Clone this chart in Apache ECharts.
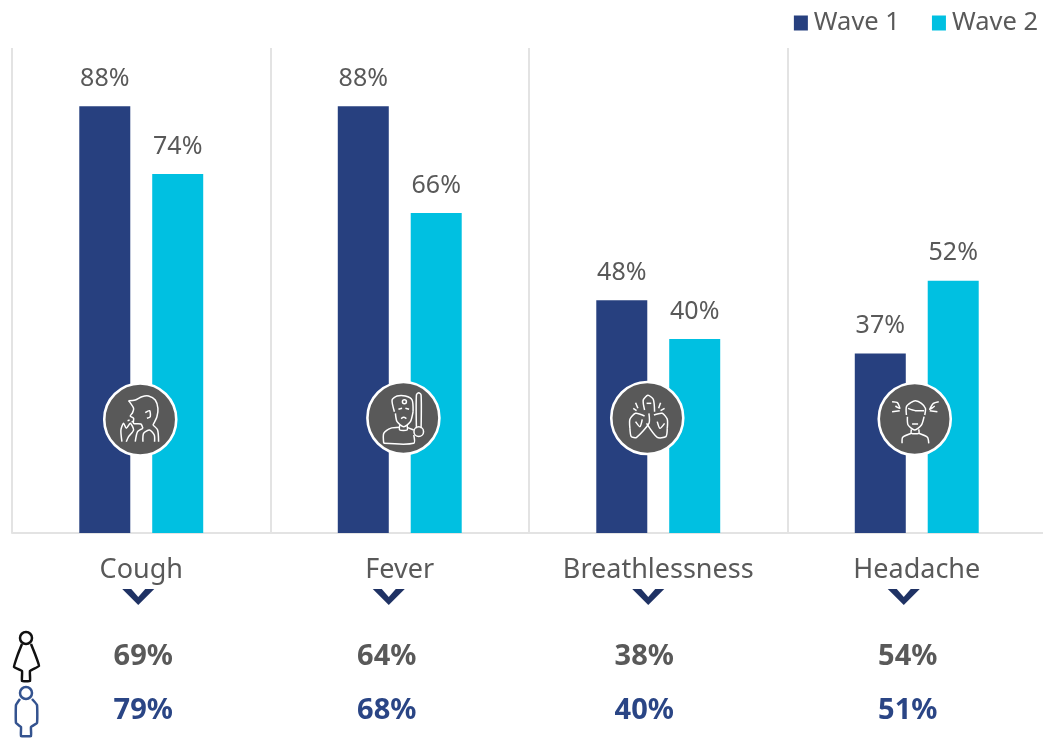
<!DOCTYPE html>
<html>
<head>
<meta charset="utf-8">
<style>html,body{margin:0;padding:0;background:#fff;overflow:hidden;width:1043px;height:738px}#chart{width:1046px;height:738px}</style>
<script src="https://cdn.jsdelivr.net/npm/echarts@6/dist/echarts.min.js"></script>
</head>
<body>
<div id="chart"></div>
<script>
// Symptom prevalence by pandemic wave, with the split by sex below.
const categories = ['Cough', 'Fever', 'Breathlessness', 'Headache'];
const wave1 = [88, 88, 48, 37];
const wave2 = [74, 66, 40, 52];
const femaleShare = [69, 64, 38, 54];
const maleShare = [79, 68, 40, 51];
const rowNames = ['Female', 'Male'];

const FONT = '"Noto Sans", sans-serif';
const GREY = '#595959';
const NAVY = '#27407F';
const CYAN = '#00C0E1';

// Small horizontal nudges of the summary figures and chevrons from each band centre.
const rowShift = [2, -13, -14, -9];
const chevronShift = [-3, -11, -10, -13];

// Line-art glyphs, drawn on a 240-unit box that is scaled to an 80px tile.
const glyphs = [
  { tile: [-41, -153], disc: [120, 118.5],
    rings: [],
    lines: [
      [[85,62],[105,60],[125,50],[145,48],[165,60],[173,85],[170,110],[158,135]],
      [[85,62],[100,85],[97,98],[90,108],[100,115],[100,130],[122,132],[128,145]],
      [[135,98],[148,92],[150,110],[140,115]],
      [[128,185],[130,160],[148,150],[162,165],[163,185]],
      [[65,185],[62,150],[70,130],[78,145],[90,130],[100,150],[85,170],[78,185]],
      [[128,145],[112,155],[105,185]],
      [[158,135],[172,150],[175,185]],
      [[82,122],[88,120]], [[94,126],[100,124]]
    ] },
  { tile: [-36, -153], disc: [119, 114],
    rings: [[122, 65, 5], [165, 155, 12]],
    lines: [
      [[92,95],[85,60],[100,48],[125,48],[145,60],[148,95]],
      [[95,100],[100,125],[120,140],[140,125],[148,95]],
      [[108,135],[108,150],[130,150],[130,135]],
      [[60,190],[60,160],[80,145],[108,142]],
      [[130,142],[150,150]],
      [[60,190],[150,190],[150,165]],
      [[158,145],[158,45],[165,38],[172,45],[172,145]],
      [[104,88],[115,85]], [[125,85],[136,88]],
      [[112,116],[120,112],[128,116]]
    ] },
  { tile: [-51, -153], disc: [120, 114],
    rings: [],
    lines: [
      [[68,145],[68,118],[85,100],[112,108]],
      [[68,145],[72,170],[88,172],[125,130],[125,100]],
      [[180,145],[180,118],[165,100],[140,105]],
      [[180,145],[176,170],[150,172],[118,130]],
      [[112,90],[108,60],[122,46],[138,58],[142,95]],
      [[118,70],[132,70]],
      [[85,125],[98,140],[105,118]],
      [[150,125],[158,145],[172,130]],
      [[85,68],[92,85]], [[78,85],[88,92]],
      [[160,68],[154,85]], [[172,85],[160,92]]
    ] },
  { tile: [-42, -153], disc: [120, 117],
    rings: [],
    lines: [
      [[95,105],[95,80],[108,68],[122,62],[140,70],[152,85],[150,105]],
      [[100,85],[122,92],[148,92]],
      [[98,110],[100,135],[120,150],[140,135],[148,110]],
      [[110,148],[110,160],[132,160],[132,148]],
      [[82,190],[84,172],[110,160]],
      [[132,160],[158,172],[162,190]],
      [[112,132],[130,132]],
      [[52,65],[68,68],[75,85],[62,78]], [[192,65],[176,70],[165,88],[180,78]],
      [[52,95],[75,92]], [[165,92],[188,95]]
    ] }
];

const figures = [
  { color: '#111111', ring: [26, 638, 6],
    line: [[22,644],[18,654],[14,667],[22,671],[22,681],[30,681],[30,671],[39,666],[35,654],[31,644]] },
  { color: '#34538F', ring: [26, 693, 6],
    line: [[20,699],[16,705],[16,723],[21,727],[21,736],[31,736],[31,727],[37,723],[37,705],[32,699]] }
];

const pick = (arr) => arr.map((v, i) => [i, v]);

function renderGlyph(params, api) {
  const i = api.value(0);
  const base = api.coord([i, 0]);
  const g = glyphs[i];
  const ox = base[0] + g.tile[0];
  const oy = base[1] + g.tile[1];
  const at = (p) => [ox + p[0] / 3, oy + p[1] / 3];
  const stroke = { stroke: '#FFFFFF', fill: null, lineWidth: 1.5 };
  const c = at(g.disc);
  const children = [{
    type: 'circle',
    shape: { cx: c[0], cy: c[1], r: 36 },
    style: { fill: GREY, stroke: '#FFFFFF', lineWidth: 2.6 }
  }];
  g.lines.forEach((pts) => children.push({
    type: 'polyline',
    shape: { points: pts.map(at), smooth: 0.25 },
    style: stroke
  }));
  g.rings.forEach((r) => {
    const q = at(r);
    children.push({ type: 'circle', shape: { cx: q[0], cy: q[1], r: r[2] / 3 * 1.2 }, style: stroke });
  });
  return { type: 'group', children };
}

function renderChevron(params, api) {
  const i = api.value(0);
  const base = api.coord([i, 0]);
  const x = base[0] + chevronShift[i];
  const y = base[1] + 56;
  const pts = [[-16,0],[-7,0],[0,8],[7,0],[16,0],[0,16]].map((p) => [x + p[0], y + p[1]]);
  return { type: 'polygon', shape: { points: pts }, style: { fill: '#1F3264' } };
}

function renderFigures(params, api) {
  const f = figures[api.value(0)];
  const stroke = { stroke: f.color, fill: null, lineWidth: 2.5 };
  return {
    type: 'group',
    children: [
      { type: 'circle', shape: { cx: f.ring[0], cy: f.ring[1], r: f.ring[2] }, style: stroke },
      { type: 'polyline', shape: { points: f.line, smooth: 0.1 }, style: stroke }
    ]
  };
}

function rowSeries(name, values, rowIndex, color) {
  return {
    name,
    type: 'scatter',
    xAxisIndex: 1,
    yAxisIndex: 1,
    symbolSize: 0,
    silent: true,
    legendHoverLink: false,
    itemStyle: { opacity: 1 },
    data: values.map((v, i) => ({
      value: [i, rowIndex],
      label: { offset: [rowShift[i], 0] }
    })),
    label: {
      show: true,
      position: 'inside',
      color,
      fontFamily: FONT,
      fontSize: 29,
      fontWeight: 'bold',
      formatter: (p) => values[p.value[0]] + '%'
    }
  };
}

function barSeries(name, values, color) {
  return {
    name,
    type: 'bar',
    barWidth: 51,
    barGap: '43%',
    data: values,
    itemStyle: { color },
    label: {
      show: true,
      position: 'top',
      distance: 15,
      color: GREY,
      fontFamily: FONT,
      fontSize: 25,
      formatter: '{c}%'
    }
  };
}

const chart = echarts.init(document.getElementById('chart'), null, { renderer: 'canvas' });
chart.setOption({
  animation: false,
  backgroundColor: '#FFFFFF',
  legend: {
    data: ['Wave 1', 'Wave 2'],
    right: 3,
    top: 5,
    itemWidth: 14,
    itemHeight: 15,
    itemGap: 32,
    icon: 'rect',
    textStyle: { color: GREY, fontFamily: FONT, fontSize: 25.5, padding: [0, 0, 0, 1] }
  },
  grid: [
    { left: 12, right: 0, top: 48, height: 485 },
    { left: 12, right: 0, top: 630, height: 108 }
  ],
  xAxis: [
    {
      type: 'category',
      gridIndex: 0,
      data: categories,
      axisTick: { show: false },
      axisLine: { lineStyle: { color: '#E3E3E3', width: 2 } },
      splitLine: { show: true, lineStyle: { color: '#E3E3E3', width: 2 } },
      axisLabel: { color: GREY, fontFamily: FONT, fontSize: 27, margin: 24 }
    },
    {
      type: 'category',
      gridIndex: 1,
      data: categories,
      show: false
    }
  ],
  yAxis: [
    { type: 'value', gridIndex: 0, min: 0, max: 100, show: false },
    { type: 'category', gridIndex: 1, data: rowNames, inverse: true, show: false }
  ],
  series: [
    barSeries('Wave 1', wave1, NAVY),
    barSeries('Wave 2', wave2, CYAN),
    { type: 'custom', name: 'glyphs', z: 5, silent: true, encode: { x: 0, y: 1 },
      data: pick(categories.map(() => 0)), renderItem: renderGlyph },
    { type: 'custom', name: 'chevrons', z: 5, silent: true, encode: { x: 0, y: 1 },
      data: pick(categories.map(() => 0)), renderItem: renderChevron },
    { type: 'custom', name: 'figures', z: 5, silent: true, xAxisIndex: 1, yAxisIndex: 1,
      encode: { x: 0, y: 1 }, data: rowNames.map((n, i) => [i, i]), renderItem: renderFigures },
    rowSeries('Female', femaleShare, 0, GREY),
    rowSeries('Male', maleShare, 1, '#2A4585')
  ]
});
</script>
</body>
</html>
